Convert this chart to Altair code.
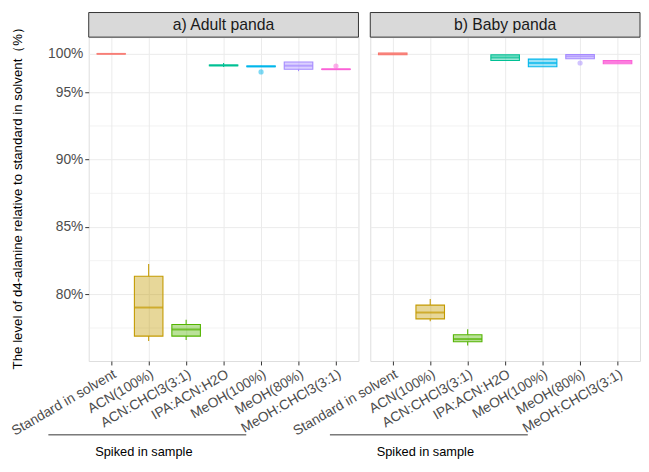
import altair as alt
import pandas as pd

categories = ["Standard in solvent", "ACN(100%)", "ACN:CHCl3(3:1)", "IPA:ACN:H2O",
              "MeOH(100%)", "MeOH(80%)", "MeOH:CHCl3(3:1)"]
colors = ["#F8766D", "#C49A00", "#53B400", "#00C094", "#00B6EB", "#A58AFF", "#FB61D7"]
panel_titles = ["a) Adult panda", "b) Baby panda"]

# Adult panda box statistics (fractions)
adult_lo  = [1.0000, 0.7654, 0.7661, 0.9829, 0.9830, 0.9775, 0.9795]
adult_q1  = [0.9998, 0.7690, 0.7690, 0.9845, 0.9833, 0.9799, 0.9796]
adult_med = [1.0000, 0.7902, 0.7739, 0.9850, 0.9837, 0.9846, 0.9799]
adult_q3  = [1.0002, 0.8134, 0.7776, 0.9855, 0.9842, 0.9894, 0.9802]
adult_hi  = [1.0000, 0.8226, 0.7812, 0.9881, 0.9845, 0.9894, 0.9803]
adult_out_cat = ["MeOH(100%)", "MeOH:CHCl3(3:1)"]
adult_out_val = [0.9765, 0.9842]

# Baby panda box statistics (fractions)
baby_lo  = [0.9988, 0.7800, 0.7620, 0.9914, 0.9833, 0.9936, 0.9872]
baby_q1  = [0.9988, 0.7818, 0.7648, 0.9914, 0.9833, 0.9936, 0.9872]
baby_med = [1.0000, 0.7865, 0.7668, 0.9953, 0.9881, 0.9968, 0.9894]
baby_q3  = [1.0012, 0.7920, 0.7700, 0.9987, 0.9932, 0.9991, 0.9914]
baby_hi  = [1.0012, 0.7965, 0.7740, 0.9987, 0.9932, 0.9991, 0.9914]
baby_out_cat = ["MeOH(80%)"]
baby_out_val = [0.9881]

y_breaks = [0.80, 0.85, 0.90, 0.95, 1.00]
y_minor = [0.775, 0.825, 0.875, 0.925]
y_title = "The level of d4-alanine relative to standard in solvent\uff08%\uff09"
group_label = "Spiked in sample"

W, H = 274, 329
FONT = "Liberation Sans"

y_scale = alt.Scale(domain=[0.7505, 0.95, 1.0, 1.0218], range=[H, 56, 17, 0],
                    nice=False, zero=False)
x_scale = alt.Scale(type="point", domain=categories, padding=0.6)
color_scale = alt.Scale(domain=categories, range=colors)


def make_panel(title, lo, q1, med, q3, hi, out_cat, out_val, show_y):
    df = pd.DataFrame({"cat": categories, "lo": lo, "q1": q1, "med": med, "q3": q3, "hi": hi})
    out = pd.DataFrame({"cat": out_cat, "val": out_val})
    minor = pd.DataFrame({"v": y_minor})
    strip = pd.DataFrame({"t": [title]})
    grp = pd.DataFrame({"t": [group_label]})

    if show_y:
        yaxis = alt.Axis(values=y_breaks, format=".0%", title=y_title, titleFontSize=13.5,
                         titleColor="black", titleFontWeight="normal", titleFont=FONT,
                         titleX=-72, titleY=160, titleAngle=270, titleAlign="center",
                         titleBaseline="middle",
                         labelFontSize=14, labelColor="#4D4D4D", labelFont=FONT,
                         tickColor={"condition": {"test": "datum.value > 0.99", "value": "transparent"},
                                    "value": "#333333"},
                         tickSize=4, domain=False, grid=True, gridColor="#EBEBEB", gridWidth=1,
                         labelPadding=2)
    else:
        yaxis = alt.Axis(values=y_breaks, labels=False, ticks=False, domain=False, title=None,
                         grid=True, gridColor="#EBEBEB", gridWidth=1)
    xaxis = alt.Axis(labelAngle=-30, labelAlign="right", labelBaseline="top", labelFontSize=14,
                     labelColor="#4D4D4D", labelFont=FONT, tickColor="#333333", tickSize=4,
                     domain=False, grid=True, gridColor="#EBEBEB", gridWidth=1, title=None,
                     labelPadding=2, labelOverlap=False)

    def Y(f):
        return alt.Y(f, scale=y_scale, axis=yaxis, title=y_title if show_y else None)

    X = alt.X("cat:N", scale=x_scale, sort=categories, axis=xaxis)
    col = alt.Color("cat:N", scale=color_scale, legend=None)

    minor_grid = alt.Chart(minor).mark_rule(color="#EBEBEB", strokeWidth=0.6).encode(y=Y("v:Q"))
    base = alt.Chart(df)
    wh_hi = base.mark_rule(strokeWidth=1.1).encode(x=X, y=Y("q3:Q"), y2="hi:Q", color=col)
    wh_lo = base.mark_rule(strokeWidth=1.1).encode(x=X, y=Y("lo:Q"), y2="q1:Q", color=col)
    box = base.mark_bar(size=29, fillOpacity=0.4, strokeWidth=1.1).encode(
        x=X, y=Y("q1:Q"), y2="q3:Q", fill=col, stroke=col)
    median = base.mark_tick(size=29, thickness=2).encode(x=X, y=Y("med:Q"), color=col)
    outl = alt.Chart(out).mark_circle(size=28, opacity=0.5).encode(x=X, y=Y("val:Q"), color=col)

    strip_rect = alt.Chart(strip).mark_rect(fill="#D9D9D9", stroke="#333333", strokeWidth=1).encode(
        x=alt.value(0), x2=alt.value(W), y=alt.value(-25), y2=alt.value(0))
    strip_text = alt.Chart(strip).mark_text(fontSize=16, color="#1A1A1A", font=FONT,
                                            baseline="middle", align="center").encode(
        x=alt.value(W / 2), y=alt.value(-12), text="t:N")
    grp_line = alt.Chart(grp).mark_rule(color="#333333", strokeWidth=1).encode(
        x=alt.value(-41), x2=alt.value(160), y=alt.value(404), y2=alt.value(404))
    grp_text = alt.Chart(grp).mark_text(fontSize=13, color="black", font=FONT,
                                        baseline="middle", align="center").encode(
        x=alt.value(56), y=alt.value(421), text="t:N")

    return alt.layer(minor_grid, wh_hi, wh_lo, box, median, outl,
                     strip_rect, strip_text, grp_line, grp_text).properties(width=W, height=H)


pa = make_panel(panel_titles[0], adult_lo, adult_q1, adult_med, adult_q3, adult_hi,
                adult_out_cat, adult_out_val, True)
pb = make_panel(panel_titles[1], baby_lo, baby_q1, baby_med, baby_q3, baby_hi,
                baby_out_cat, baby_out_val, False)

chart = alt.hconcat(pa, pb, spacing=12, bounds="flush").properties(
    padding={"left": 0, "top": 0, "right": 0, "bottom": 0}).configure_view(
    stroke="#333333", strokeWidth=1).configure(background="white")

chart.save("out.html", embed_options={"renderer": "svg", "actions": False})
